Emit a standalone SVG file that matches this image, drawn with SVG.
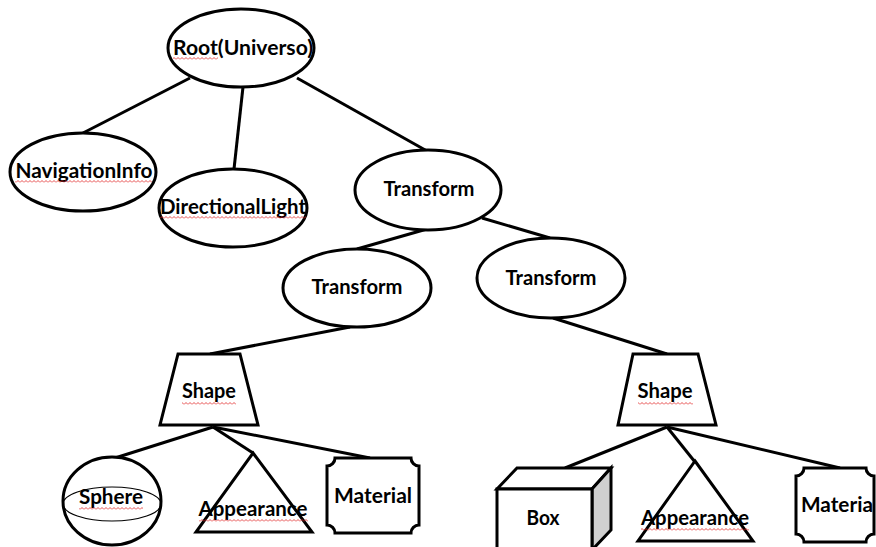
<svg xmlns="http://www.w3.org/2000/svg" width="876" height="547" viewBox="0 0 876 547">
<defs>
<pattern id="squig" patternUnits="userSpaceOnUse" width="4" height="3">
<path d="M0 2.5 L2 0.5 L4 2.5" fill="none" stroke="#e02020" stroke-width="0.8"/>
</pattern>
</defs>
<style>
.n{fill:#fff;stroke:#000;stroke-width:3;stroke-linejoin:miter}
.e{stroke:#000;stroke-width:3;fill:none}
.t{font-family:Lato,"Liberation Sans",sans-serif;font-weight:bold;font-size:20px;fill:#000;text-anchor:middle}
.sq{fill:url(#squig)}
</style>
<rect width="876" height="547" fill="#fff"/>
<g id="connectors">
<line class="e" x1="190" y1="78" x2="83" y2="133"/>
<line class="e" x1="243" y1="87" x2="234" y2="169"/>
<line class="e" x1="297" y1="78" x2="427" y2="151"/>
<line class="e" x1="427" y1="229" x2="357" y2="249"/>
<line class="e" x1="482" y1="218" x2="550" y2="238"/>
<line class="e" x1="350" y1="327" x2="210" y2="354"/>
<line class="e" x1="553" y1="318" x2="667" y2="354"/>
<line class="e" x1="213" y1="427" x2="115" y2="458"/>
<line class="e" x1="213" y1="427" x2="253" y2="453"/>
<line class="e" x1="213" y1="427" x2="370" y2="458"/>
<line class="e" x1="667" y1="427" x2="565" y2="468"/>
<line class="e" x1="667" y1="427" x2="695" y2="462"/>
<line class="e" x1="667" y1="427" x2="840" y2="468"/>
</g>
<g id="root">
<ellipse class="n" cx="241" cy="48" rx="73" ry="39"/>
<text class="t" x="243" y="55" textLength="140" lengthAdjust="spacingAndGlyphs">Root(Universo)</text>
<rect class="sq" x="173" y="57" width="45" height="3"/>
</g>
<g id="navigationinfo">
<ellipse class="n" cx="83" cy="172" rx="73" ry="39"/>
<text class="t" x="84" y="178" textLength="137" lengthAdjust="spacingAndGlyphs">NavigationInfo</text>
<rect class="sq" x="15" y="180" width="137" height="3"/>
</g>
<g id="directionallight">
<ellipse class="n" cx="233" cy="208" rx="74" ry="39"/>
<text class="t" x="233" y="214" textLength="146" lengthAdjust="spacingAndGlyphs">DirectionalLight</text>
<rect class="sq" x="160" y="216" width="146" height="3"/>
</g>
<g id="transform1">
<ellipse class="n" cx="428" cy="190" rx="73" ry="40"/>
<text class="t" x="429" y="196" textLength="91" lengthAdjust="spacingAndGlyphs">Transform</text>
</g>
<g id="transform2">
<ellipse class="n" cx="357" cy="288" rx="74" ry="39"/>
<text class="t" x="357" y="294" textLength="91" lengthAdjust="spacingAndGlyphs">Transform</text>
</g>
<g id="transform3">
<ellipse class="n" cx="551" cy="278" rx="74" ry="40"/>
<text class="t" x="551" y="285" textLength="91" lengthAdjust="spacingAndGlyphs">Transform</text>
</g>
<g id="shape1">
<polygon class="n" points="178,354 240,354 258,425 160,425"/>
<text class="t" x="209" y="398" textLength="54" lengthAdjust="spacingAndGlyphs">Shape</text>
<rect class="sq" x="182" y="402" width="54" height="3"/>
</g>
<g id="shape2">
<polygon class="n" points="633,354 698,354 716,425 618,425"/>
<text class="t" x="665" y="398" textLength="55" lengthAdjust="spacingAndGlyphs">Shape</text>
<rect class="sq" x="638" y="402" width="55" height="3"/>
</g>
<g id="sphere">
<ellipse class="n" cx="112" cy="501" rx="49" ry="44"/>
<ellipse cx="112" cy="504" rx="49" ry="17" fill="none" stroke="#000" stroke-width="1.2"/>
<text class="t" x="111" y="504" textLength="64" lengthAdjust="spacingAndGlyphs">Sphere</text>
<rect class="sq" x="79" y="507" width="64" height="3"/>
</g>
<g id="appearance1">
<polygon class="n" points="253,453 312,532 196,532"/>
<text class="t" x="253" y="516" textLength="109" lengthAdjust="spacingAndGlyphs">Appearance</text>
<rect class="sq" x="199" y="519" width="109" height="3"/>
</g>
<g id="material1">
<path class="n" d="M335 458 H411 A8 8 0 0 0 419 466 V525 A8 8 0 0 0 411 533 H335 A8 8 0 0 0 327 525 V466 A8 8 0 0 0 335 458 Z"/>
<text class="t" x="373" y="503" textLength="78" lengthAdjust="spacingAndGlyphs">Material</text>
</g>
<g id="box">
<polygon class="n" points="497,489 517,468 611,468 592,489"/>
<polygon points="592,489 611,468 611,530 592,550" fill="#d0d0d0" stroke="#000" stroke-width="3" stroke-linejoin="miter"/>
<rect class="n" x="497" y="489" width="95" height="62"/>
<text class="t" x="543" y="525" textLength="33" lengthAdjust="spacingAndGlyphs">Box</text>
</g>
<g id="appearance2">
<polygon class="n" points="695,461 753,541 638,541"/>
<text class="t" x="695" y="525" textLength="108" lengthAdjust="spacingAndGlyphs">Appearance</text>
<rect class="sq" x="641" y="528" width="108" height="3"/>
</g>
<g id="material2">
<path class="n" d="M804 468 H866 A8 8 0 0 0 874 476 V534 A8 8 0 0 0 866 542 H804 A8 8 0 0 0 796 534 V476 A8 8 0 0 0 804 468 Z"/>
<text class="t" x="837" y="512" textLength="72" lengthAdjust="spacingAndGlyphs">Materia</text>
</g>
</svg>
